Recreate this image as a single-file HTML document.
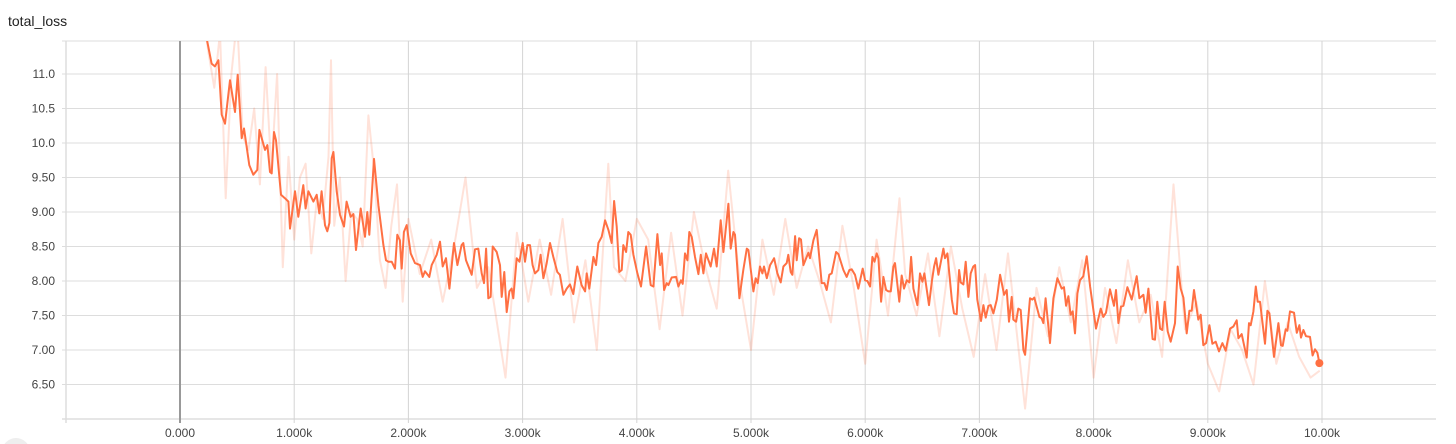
<!DOCTYPE html>
<html><head><meta charset="utf-8">
<style>
html,body{margin:0;padding:0;background:#fff;width:1456px;height:444px;overflow:hidden;}
svg{display:block;font-family:"Liberation Sans",sans-serif;overflow:hidden;}
</style></head>
<body>
<svg id="chart" width="1456" height="444" viewBox="0 0 1456 444">
<text x="8" y="26" font-size="14" fill="#212121">total_loss</text>
<g id="grid"></g>
<g id="axes"></g>
<defs><clipPath id="clip"><rect x="66" y="41" width="1370" height="378"/></clipPath></defs>
<g id="series" clip-path="url(#clip)"></g>
</svg>
<script>
const yTicks=[6.5,7,7.5,8,8.5,9,9.5,10,10.5,11];
const yTickLabels=["6.50","7.00","7.50","8.00","8.50","9.00","9.50","10.0","10.5","11.0"];
const xTicks=[0,1000,2000,3000,4000,5000,6000,7000,8000,9000,10000];
const xTickLabels=["0.000","1.000k","2.000k","3.000k","4.000k","5.000k","6.000k","7.000k","8.000k","9.000k","10.00k"];
const smoothSteps=[200,233,277,306,336,365,394,438,482,505,540,560,607,642,677,695,744,765,788,803,823,841,884,919,949,963,1007,1036,1080,1100,1124,1168,1197,1220,1240,1270,1290,1308,1328,1343,1372,1401,1436,1459,1494,1518,1541,1582,1620,1640,1658,1699,1737,1781,1804,1824,1854,1883,1903,1926,1941,1961,1985,2020,2058,2102,2125,2145,2183,2204,2248,2277,2300,2329,2359,2399,2429,2466,2481,2504,2554,2583,2612,2642,2662,2680,2700,2720,2738,2773,2802,2817,2840,2861,2884,2904,2919,2948,2972,3001,3021,3042,3065,3088,3109,3138,3158,3182,3211,3240,3269,3304,3327,3357,3386,3415,3444,3479,3517,3547,3561,3584,
3620,3643,3664,3693,3722,3751,3780,3801,3824,3847,3868,3882,3906,3926,3947,3970,4005,4037,4081,4122,4145,4180,4204,4218,4239,4262,4277,4306,4344,4364,4387,4402,4422,4443,4460,4481,4510,4539,4560,4583,4606,4647,4676,4700,4735,4758,4802,4822,4846,4860,4898,4933,4963,4977,5021,5041,5059,5079,5100,5114,5138,5167,5202,5231,5260,5284,5313,5327,5348,5362,5386,5400,5421,5438,5459,5488,5503,5517,5546,5575,5619,5643,5663,5686,5707,5745,5765,5809,5838,5862,5882,5911,5940,5978,5999,6019,6043,6063,6081,6101,6116,6139,6159,6183,6203,6224,6247,6261,6299,6320,6340,6364,6387,6402,6422,6457,6480,6501,6518,6559,6583,6603,6621,6641,6685,6699,6720,6758,6778,6801,6822,6836,6860,6880,6904,6924,6947,6962,6982,7014,7035,7055,7079,7099,7123,7152,
7181,7216,7239,7259,7283,7297,7321,7341,7362,7385,7400,7443,7464,7481,7525,7545,7560,7580,7618,7648,7683,7721,7741,7759,7779,7799,7817,7837,7858,7881,7910,7940,7969,8021,8062,8085,8109,8144,8179,8196,8217,8240,8261,8296,8334,8377,8401,8436,8456,8480,8517,8538,8558,8582,8602,8623,8649,8675,8713,8736,8763,8786,8815,8839,8859,8879,8917,8938,8961,8985,9014,9040,9069,9098,9128,9157,9195,9224,9253,9268,9297,9341,9361,9376,9399,9420,9437,9457,9501,9522,9539,9580,9618,9641,9656,9682,9697,9720,9755,9779,9802,9816,9837,9860,9895,9918,9939,9960,9977];
const smoothValues=[11.7,11.52,11.15,11.11,11.20,10.41,10.28,10.91,10.45,10.99,10.07,10.21,9.68,9.54,9.61,10.19,9.90,9.97,9.58,9.56,10.16,10.04,9.25,9.20,9.15,8.76,9.30,8.93,9.39,9.05,9.30,9.15,9.25,8.98,9.30,8.81,8.72,8.84,9.78,9.87,9.30,8.96,8.79,9.15,8.93,8.97,8.45,9.05,8.64,9.00,8.67,9.77,9.10,8.52,8.30,8.28,8.28,8.18,8.67,8.59,8.18,8.71,8.81,8.40,8.26,8.23,8.06,8.14,8.06,8.23,8.38,8.57,8.21,8.33,7.89,8.55,8.23,8.52,8.55,8.30,8.09,8.46,8.47,8.11,7.97,8.47,7.75,7.77,8.50,8.42,8.23,7.77,8.13,7.55,7.85,7.89,7.75,8.33,8.28,8.55,8.28,8.52,8.52,8.23,8.11,8.16,8.38,8.04,8.26,8.55,8.35,8.13,8.09,7.80,7.89,7.95,7.81,8.21,7.94,7.85,8.11,7.89,
8.35,8.23,8.55,8.64,8.88,8.74,8.55,9.16,8.79,8.13,8.16,8.52,8.42,8.71,8.67,8.38,8.11,7.92,8.50,7.94,7.92,8.68,8.23,8.40,7.87,7.97,7.94,8.05,8.06,7.92,8.01,7.96,8.40,8.30,8.71,8.64,8.35,8.10,8.38,8.11,8.40,8.21,8.47,8.21,8.88,8.42,9.12,8.47,8.71,8.67,7.75,8.16,8.47,8.45,7.85,8.04,7.97,8.21,8.11,8.21,8.04,8.23,8.33,8.11,7.98,8.21,8.26,8.38,8.13,8.09,8.65,8.30,8.62,8.60,8.23,8.35,8.41,8.33,8.59,8.74,7.97,7.97,7.87,8.09,8.11,8.42,8.39,8.16,8.06,8.16,8.17,8.09,7.89,8.18,8.01,8.00,7.92,8.35,8.28,8.40,8.33,7.70,8.06,7.87,7.85,7.85,8.21,8.26,7.70,8.08,7.89,8.01,7.98,8.35,7.89,7.65,8.11,7.99,8.11,7.65,7.99,8.21,8.33,8.09,8.47,8.33,8.40,7.73,7.53,7.52,8.16,7.98,7.95,8.28,7.77,8.11,8.21,8.23,7.73,7.42,7.65,7.47,7.64,7.65,7.53,7.73,
8.09,7.80,7.87,7.41,7.77,7.44,7.41,7.60,7.58,7.00,6.93,7.75,7.73,7.76,7.48,7.46,7.39,7.75,7.10,7.75,8.04,7.89,7.91,7.64,7.78,7.51,7.56,7.24,7.82,8.01,8.07,8.36,7.92,7.31,7.60,7.48,7.54,7.88,7.64,7.87,7.39,7.63,7.64,7.91,7.73,8.07,7.75,7.80,7.54,7.89,7.16,7.15,7.70,7.31,7.29,7.70,7.27,7.12,7.39,8.21,7.89,7.76,7.24,7.57,7.57,7.87,7.44,7.51,7.07,7.10,7.36,7.09,7.12,6.98,7.10,6.99,7.31,7.34,7.43,7.17,7.23,6.89,7.39,7.36,7.56,7.92,7.70,7.70,7.09,7.57,7.53,6.90,7.39,7.07,7.06,7.30,7.28,7.56,7.54,7.25,7.36,7.18,7.29,7.20,7.19,6.92,7.01,6.96,6.81];
const rawSteps=[200,250,300,350,400,450,500,550,600,650,700,750,800,850,900,950,1000,1050,1100,1150,1200,1250,1300,1322,1350,1400,1450,1500,1550,1600,1650,1700,1750,1800,1850,1900,1950,2000,2100,2200,2300,2400,2500,2600,2700,2850,2950,3050,3150,3250,3350,3450,3550,3650,3750,3800,3900,4000,4100,4200,4300,4400,4500,4600,4700,4800,4900,5000,5100,5200,5300,5400,5500,5600,5700,5800,5900,6000,6100,6200,6300,6350,6450,6550,6650,6750,6850,6950,7050,7150,7250,7400,7500,7600,7700,7800,7900,8000,8100,8200,8300,8400,8500,8600,8700,8800,8900,9000,9100,9200,9300,9400,9500,9600,9700,9800,9900,9980];
const rawValues=[11.9,11.3,10.8,11.6,9.2,11.0,11.8,10.1,9.9,10.5,9.4,11.1,9.6,11.0,8.2,9.8,8.6,9.5,9.7,8.4,9.2,8.9,9.8,11.2,8.8,9.5,8.0,9.0,8.9,8.5,10.4,9.6,8.3,7.9,8.8,9.4,7.7,8.9,8.1,8.6,7.7,8.5,9.5,7.9,8.2,6.6,8.7,7.7,8.6,7.8,8.9,7.4,8.3,7.0,9.7,8.2,8.0,8.9,8.6,7.3,8.7,7.5,9.0,8.2,7.6,9.6,8.0,7.0,8.6,7.8,8.9,7.9,8.5,8.0,7.4,8.8,7.9,6.8,8.6,7.5,9.2,8.1,7.5,8.4,7.2,8.5,7.6,6.9,8.1,7.0,8.4,6.15,7.9,7.2,8.2,7.4,8.3,6.6,7.9,7.1,8.3,7.4,7.8,6.9,9.4,7.3,7.7,6.8,6.4,7.3,7.0,6.5,8.0,6.8,7.4,6.9,6.6,6.7];

const X0=180,XK=114.2,Y0=419,YU=69;
const sx=s=>X0+s*XK/1000;
const sy=v=>Y0-(v-6)*YU;
const NS="http://www.w3.org/2000/svg";
const grid=document.getElementById('grid'),axes=document.getElementById('axes'),series=document.getElementById('series');
function mk(tag,attrs,parent){const e=document.createElementNS(NS,tag);for(const k in attrs)e.setAttribute(k,attrs[k]);parent.appendChild(e);return e;}

let t=mk('line',{x1:62,x2:1436,y1:41,y2:41,stroke:'#ddd','stroke-width':1},grid);


t=mk('line',{x1:66,x2:66,y1:41,y2:423,stroke:'#ddd','stroke-width':1.5},grid);


t=mk('line',{x1:62,x2:1436,y1:419,y2:419,stroke:'#ddd','stroke-width':1.5},grid);



yTicks.forEach((v,i)=>{
  const y=sy(v);
  const l=mk('line',{x1:62,x2:1436,y1:y,y2:y,stroke:'#ddd','stroke-width':1},grid);
  
  
  const tx=mk('text',{x:55,y:y+4,'text-anchor':'end','font-size':12,fill:'#444'},axes);
  tx.textContent=yTickLabels[i];
  
  
});
xTicks.forEach((s,i)=>{
  const x=sx(s);
  const l=mk('line',{x1:x,x2:x,y1:41,y2:423,stroke:s===0?'#999':'#d4d4d4','stroke-width':s===0?2:1},grid);
  
  
  const tx=mk('text',{x:x,y:437,'text-anchor':'middle','font-size':12,fill:'#444'},axes);
  tx.textContent=xTickLabels[i];
  
  
});

const rawPts=rawSteps.map((s,i)=>sx(s).toFixed(1)+','+sy(rawValues[i]).toFixed(1)).join(' ');
const raw=mk('polyline',{points:rawPts,fill:'none',stroke:'#ff7043','stroke-opacity':0.2,'stroke-width':2,'stroke-linejoin':'round'},series);


const smPts=smoothSteps.map((s,i)=>sx(s).toFixed(1)+','+sy(smoothValues[i]).toFixed(1)).join(' ');
const sm=mk('polyline',{points:smPts,fill:'none',stroke:'#ff7043','stroke-width':2,'stroke-linejoin':'round'},series);


const n=smoothSteps.length-1;
const dot=mk('circle',{cx:sx(smoothSteps[n]),cy:sy(smoothValues[n]),r:4,fill:'#ff7043'},series);


const bc=mk('circle',{cx:16,cy:452,r:14,fill:'#eee'},axes);


</script>
</body></html>
